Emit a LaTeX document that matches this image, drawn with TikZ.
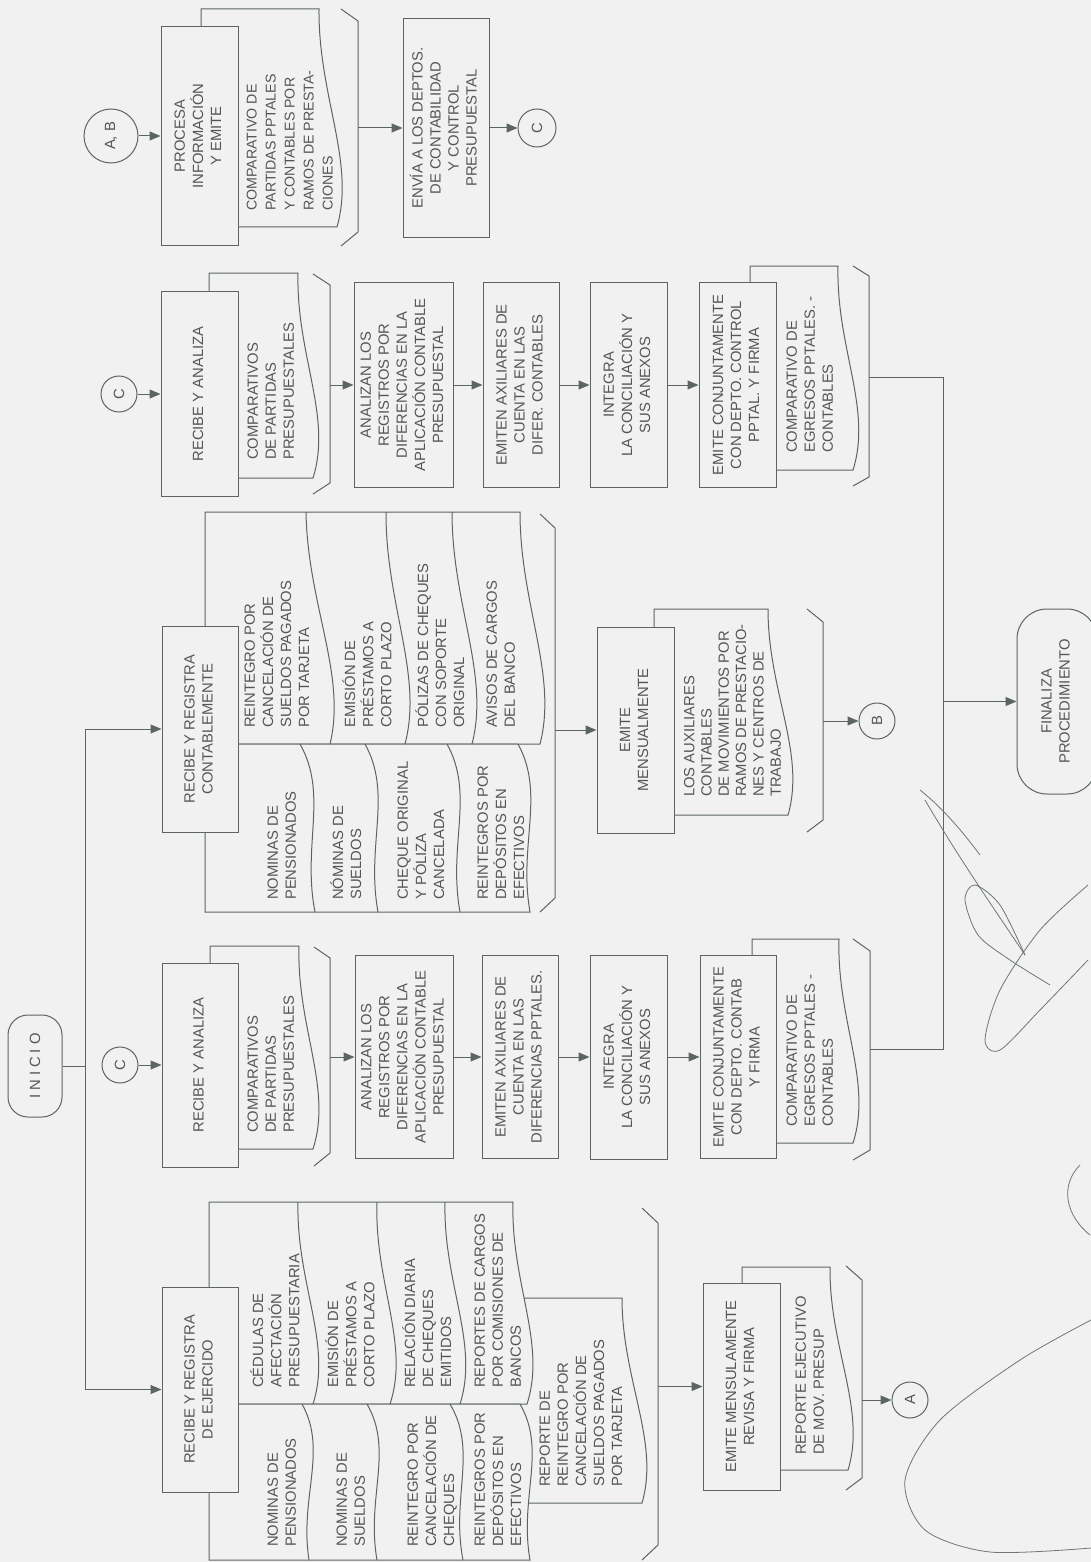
\documentclass[tikz,border=0pt]{standalone}
\usepackage{fontspec}
\setmainfont{Liberation Sans}
\usepackage{graphicx}
\usetikzlibrary{arrows.meta,calc}
\definecolor{bgc}{RGB}{241,241,241}
\definecolor{linec}{RGB}{92,100,100}
\definecolor{txtc}{RGB}{84,86,86}
\definecolor{sigc}{RGB}{110,118,118}
\newcommand\dfont{\fontsize{14.8}{18}\selectfont}
\newcommand\vcen[1]{\rotatebox{90}{\begin{tabular}{@{}c@{}}#1\end{tabular}}}
\newcommand\vlft[1]{\rotatebox{90}{\begin{tabular}{@{}l@{}}#1\end{tabular}}}
\tikzset{
  ln/.style={draw=linec, line width=1pt},
  doc/.style={draw=linec, fill=bgc, line width=1pt},
  box/.style={draw=linec, fill=bgc, line width=1pt, inner sep=0pt, text=txtc, font=\dfont},
  term/.style={box, rounded corners=#1},
  txt/.style={anchor=south west, inner sep=0pt, text=txtc, font=\dfont},
  arr/.style={draw=linec, line width=1pt, -{Triangle[length=11pt,width=9pt]}},
  conn/.style={circle, draw=linec, fill=bgc, line width=1pt, minimum size=#1, inner sep=0pt, text=txtc, font=\dfont},
  sig/.style={draw=sigc, line width=0.8pt},
  wv/.style={to path={.. controls ($(\tikztostart)!0.4!(\tikztotarget)+(-8,0)$) and ($(\tikztostart)!0.7!(\tikztotarget)+(24,0)$) .. (\tikztotarget) \tikztonodes}},
  wvf/.style={to path={.. controls ($(\tikztostart)!0.3!(\tikztotarget)+(24,0)$) and ($(\tikztostart)!0.6!(\tikztotarget)+(-7,0)$) .. (\tikztotarget) \tikztonodes}},
}
\begin{document}
\begin{tikzpicture}[x=1pt,y=-1pt]
\useasboundingbox (0,0) rectangle (1091,1562);
\clip (0,0) rectangle (1091,1562);
\fill[bgc] (0,0) rectangle (1091,1562);

% ---------- start and main trunk ----------
\node[term=20pt, minimum width=54pt, minimum height=102pt] (ini) at (35,1066)
  {\rotatebox{90}{I\hspace{4pt}N\hspace{4pt}I\hspace{4pt}C\hspace{4pt}I\hspace{4pt}O}};
\coordinate (jn) at (85,1066);
\coordinate (v3) at (85,729);
\coordinate (v1) at (85,1389.5);
\draw[ln] (ini.east) -- (jn);
\draw[ln] (v3) -- (v1);

% ---------- column 1 : ejercido ----------
\draw[doc] (500,1298) -- (622,1298) to[wv] (642,1503) -- (500,1503) -- cycle;
\draw[doc] (209,1404) -- (209,1202) -- (513,1202) to[wv] (527,1404) -- cycle;
\draw[doc] (209,1404) -- (520,1404) to[wvf] (530,1560) -- (209,1560) -- cycle;
\draw[ln] (298,1202) to[wv] (313,1404);
\draw[ln] (377,1202) to[wv] (390,1404);
\draw[ln] (445,1202) to[wv] (460,1404);
\draw[ln] (302,1404) to[wvf] (309,1560);
\draw[ln] (367,1404) to[wvf] (377,1560);
\draw[ln] (450,1404) to[wvf] (463,1560);
\node[txt] (t11) at (250,1388) {\vlft{CÉDULAS DE\\AFECTACIÓN\\PRESUPUESTARIA}};
\node[txt] (t12) at (325,1388) {\vlft{EMISIÓN DE\\PRÉSTAMOS A\\CORTO PLAZO}};
\node[txt] (t13) at (402,1388) {\vlft{RELACIÓN DIARIA\\DE CHEQUES\\EMITIDOS}};
\node[txt] (t14) at (472,1388) {\vlft{REPORTES DE CARGOS\\POR COMISIONES DE\\BANCOS}};
\node[txt] (t15) at (265,1547) {\vlft{NOMINAS DE\\PENSIONADOS}};
\node[txt] (t16) at (334,1547) {\vlft{NOMINAS DE\\SUELDOS}};
\node[txt] (t17) at (405,1547) {\vlft{REINTEGRO POR\\CANCELACIÓN DE\\CHEQUES}};
\node[txt] (t18) at (472,1547) {\vlft{REINTEGROS POR\\DEPÓSITOS EN\\EFECTIVOS}};
\node[txt] (t19) at (537,1487) {\vlft{REPORTE DE\\REINTEGRO POR\\CANCELACIÓN DE\\SUELDOS PAGADOS\\POR TARJETA}};
\node[box, minimum width=76pt, minimum height=205pt] (b1) at (200,1389.5) {\vcen{RECIBE Y REGISTRA\\DE EJERCIDO}};
\draw[arr] (v1) -- (b1.west);
\draw[ln] (642,1208) -- (658,1223) -- (658,1545) -- (642,1560);
\coordinate (k1) at (658,1386.5);
\draw[doc] (742,1470) -- (742,1267) -- (830,1267) to[wv] (848,1470) -- cycle;
\node[txt] (t1r) at (793,1455) {\vlft{REPORTE EJECUTIVO\\DE MOV. PRESUP}};
\node[box, minimum width=77pt, minimum height=207pt] (e1) at (741.5,1386.5) {\vcen{EMITE MENSULAMENTE\\REVISA Y FIRMA}};
\draw[arr] (k1) -- (e1.west);
\draw[ln] (846,1266) -- (862,1280) -- (862,1478) -- (846,1490);
\coordinate (kA) at (862,1400);
\node[conn=36pt] (cA) at (910,1400) {\rotatebox{90}{A}};
\draw[arr] (kA) -- (cA.west);

% ---------- column 2 : recibe y analiza (contab) ----------
\node[conn=36pt] (c2) at (120,1065) {\rotatebox{90}{C}};
\draw[doc] (210,1149) -- (210,946) -- (299,946) to[wv] (313,1149) -- cycle;
\node[txt] (t21) at (245,1133) {\vlft{COMPARATIVOS\\DE PARTIDAS\\PRESUPUESTALES}};
\node[box, minimum width=76pt, minimum height=204pt] (a2) at (200,1065) {\vcen{RECIBE Y ANALIZA}};
\draw[arr] (c2) -- (a2);
\draw[ln] (314,947) -- (330,958) -- (330,1153) -- (314,1166);
\coordinate (k2) at (330,1057);
\node[box, minimum width=98pt, minimum height=203pt] (n2) at (404,1057) {\vcen{ANALIZAN LOS\\REGISTROS POR\\DIFERENCIAS EN LA\\APLICACIÓN CONTABLE\\PRESUPUESTAL}};
\node[box, minimum width=76pt, minimum height=203pt] (e2) at (520,1057) {\vcen{EMITEN AXILIARES DE\\CUENTA EN LAS\\DIFERENCIAS PPTALES.}};
\node[box, minimum width=77pt, minimum height=204pt] (i2) at (628.5,1057) {\vcen{INTEGRA\\LA CONCILIACIÓN Y\\SUS ANEXOS}};
\draw[doc] (752,1143) -- (752,939) -- (839,939) to[wv] (853,1143) -- cycle;
\node[txt] (t22) at (784,1127) {\vlft{COMPARATIVO DE\\EGRESOS PPTALES -\\CONTABLES}};
\node[box, minimum width=76pt, minimum height=203pt] (j2) at (738,1057) {\vcen{EMITE CONJUNTAMENTE\\CON DEPTO. CONTAB\\Y FIRMA}};
\draw[arr] (k2) -- (n2);
\draw[arr] (n2) -- (e2);
\draw[arr] (e2) -- (i2);
\draw[arr] (i2) -- (j2);
\draw[ln] (853,939) -- (870,951) -- (870,1150) -- (853,1160);
\coordinate (k2b) at (870,1049);

% ---------- column 3 : recibe y registra contablemente ----------
\draw[doc] (205,744) -- (205,512) -- (520,512) to[wv] (540,744) -- cycle;
\draw[doc] (205,744) -- (518,744) to[wvf] (530,912) -- (205,912) -- cycle;
\draw[ln] (306,512) to[wv] (330,744);
\draw[ln] (386,512) to[wv] (405,744);
\draw[ln] (452,512) to[wv] (472,744);
\draw[ln] (300,744) to[wvf] (315,912);
\draw[ln] (365,744) to[wvf] (378,912);
\draw[ln] (447,744) to[wvf] (460,912);
\node[txt] (t31) at (242,728) {\vlft{REINTEGRO POR\\CANCELACIÓN DE\\SUELDOS PAGADOS\\POR TARJETA}};
\node[txt] (t32) at (342,728) {\vlft{EMISIÓN DE\\PRÉSTAMOS A\\CORTO PLAZO}};
\node[txt] (t33) at (415,728) {\vlft{PÓLIZAS DE CHEQUES\\CON SOPORTE\\ORIGINAL}};
\node[txt] (t34) at (484,728) {\vlft{AVISOS DE CARGOS\\DEL BANCO}};
\node[txt] (t35) at (265,900) {\vlft{NOMINAS DE\\PENSIONADOS}};
\node[txt] (t36) at (330,900) {\vlft{NÓMINAS DE\\SUELDOS}};
\node[txt] (t37) at (395,900) {\vlft{CHEQUE ORIGINAL\\Y PÓLIZA\\CANCELADA}};
\node[txt] (t38) at (475,900) {\vlft{REINTEGROS POR\\DEPÓSITOS EN\\EFECTIVOS}};
\node[box, minimum width=76pt, minimum height=206pt] (b3) at (200,729) {\vcen{RECIBE Y REGISTRA\\CONTABLEMENTE}};
\draw[arr] (v3) -- (b3.west);
\draw[ln] (540,514) -- (555,528) -- (555,898) -- (540,912);
\coordinate (k3) at (555,730);
\draw[doc] (654,815) -- (654,609) -- (768,609) to[wv] (788,815) -- cycle;
\node[txt, font=\fontsize{14.8}{17.3}\selectfont] (t39) at (682,797) {\vlft{LOS AUXILIARES\\CONTABLES\\DE MOVIMIENTOS POR\\RAMOS DE PRESTACIO-\\NES Y CENTROS DE\\TRABAJO}};
\node[box, minimum width=77pt, minimum height=206pt] (m3) at (635.5,730) {\vcen{EMITE\\MENSUALMENTE}};
\draw[arr] (k3) -- (m3.west);
\draw[ln] (807,609) -- (823,622) -- (823,820) -- (807,832);
\coordinate (kB) at (823,721);
\node[conn=36pt] (cB) at (877,721) {\rotatebox{90}{B}};
\draw[arr] (kB) -- (cB.west);

% ---------- column 4 : recibe y analiza (pptal) ----------
\node[conn=36pt] (c4) at (119,394) {\rotatebox{90}{C}};
\draw[doc] (209,478) -- (209,273) -- (298,273) to[wv] (313,478) -- cycle;
\node[txt] (t41) at (245,460) {\vlft{COMPARATIVOS\\DE PARTIDAS\\PRESUPUESTALES}};
\node[box, minimum width=77pt, minimum height=205pt] (a4) at (199.5,394) {\vcen{RECIBE Y ANALIZA}};
\draw[arr] (c4) -- (a4);
\draw[ln] (313,274) -- (330,285) -- (330,483) -- (313,494);
\coordinate (k4) at (330,385);
\node[box, minimum width=99pt, minimum height=205pt] (n4) at (403.5,385) {\vcen{ANALIZAN LOS\\REGISTROS POR\\DIFERENCIAS EN LA\\APLICACIÓN CONTABLE\\PRESUPUESTAL}};
\node[box, minimum width=76pt, minimum height=205pt] (e4) at (521,385) {\vcen{EMITEN AXILIARES DE\\CUENTA EN LAS\\DIFER. CONTABLES}};
\node[box, minimum width=77pt, minimum height=205pt] (i4) at (628.5,385) {\vcen{INTEGRA\\LA CONCILIACIÓN Y\\SUS ANEXOS}};
\draw[doc] (750,470) -- (750,266) -- (838,266) to[wv] (853,470) -- cycle;
\node[txt] (t42) at (784,453) {\vlft{COMPARATIVO DE\\EGRESOS PPTALES. -\\CONTABLES}};
\node[box, minimum width=77pt, minimum height=205pt] (j4) at (737.5,385) {\vcen{EMITE CONJUNTAMENTE\\CON DEPTO. CONTROL\\PPTAL. Y FIRMA}};
\draw[arr] (k4) -- (n4);
\draw[arr] (n4) -- (e4);
\draw[arr] (e4) -- (i4);
\draw[arr] (i4) -- (j4);
\draw[ln] (853,266) -- (869,276) -- (869,477) -- (853,486);
\coordinate (k4b) at (869,377);

% ---------- merge and end ----------
\coordinate (mg1) at (943,377);
\coordinate (mg2) at (943,1049);
\coordinate (mg3) at (943,701.5);
\draw[ln] (k4b) -- (mg1) -- (mg2) -- (k2b);
\node[term=30pt, minimum width=80pt, minimum height=185pt] (fin) at (1057,701.5) {\vcen{FINALIZA\\PROCEDIMIENTO}};
\draw[arr] (mg3) -- (fin.west);

% ---------- column 5 : procesa informacion ----------
\node[conn=54pt] (cAB) at (111,136) {\rotatebox{90}{A, B}};
\draw[doc] (201,227) -- (201,9) -- (319,9) to[wv] (337,227) -- cycle;
\node[txt, font=\fontsize{14.2}{19}\selectfont] (t51) at (243,211) {\vlft{COMPARATIVO DE\\PARTIDAS PPTALES\\Y CONTABLES POR\\RAMOS DE PRESTA-\\CIONES}};
\node[box, minimum width=77pt, minimum height=219pt] (p5) at (199.5,136) {\vcen{PROCESA\\INFORMACIÓN\\Y EMITE}};
\draw[arr] (cAB) -- (p5);
\draw[ln] (341,9) -- (358,21) -- (358,232) -- (341,246);
\coordinate (k5) at (358,128);
\node[box, minimum width=86pt, minimum height=219pt] (s5) at (446,128) {\vcen{ENVÍA A LOS DEPTOS.\\DE CONTABILIDAD\\Y CONTROL\\PRESUPUESTAL}};
\draw[arr] (k5) -- (s5.west);
\node[conn=38pt] (c5) at (537,128) {\rotatebox{90}{C}};
\draw[arr] (s5) -- (c5);

% ---------- signature strokes ----------
\draw[sig] (920,790) .. controls (945,810) and (965,835) .. (980,855);
\draw[sig] (925,800) .. controls (960,860) and (995,910) .. (1025,955);
\draw[sig] plot[smooth] coordinates {(1025,955) (1000,905) (975,885) (965,900) (978,935) (1010,960) (1050,985)};
\draw[sig] plot[smooth] coordinates {(1088,885) (1040,930) (1000,990) (985,1040) (1000,1050) (1040,1010) (1088,960)};
\draw[sig] (1080,1165) .. controls (1060,1185) and (1065,1215) .. (1090,1235);
\draw[sig] plot[smooth] coordinates {(1091,1320) (1020,1360) (940,1420) (905,1480) (925,1530) (990,1552) (1091,1548)};
\end{tikzpicture}
\end{document}
